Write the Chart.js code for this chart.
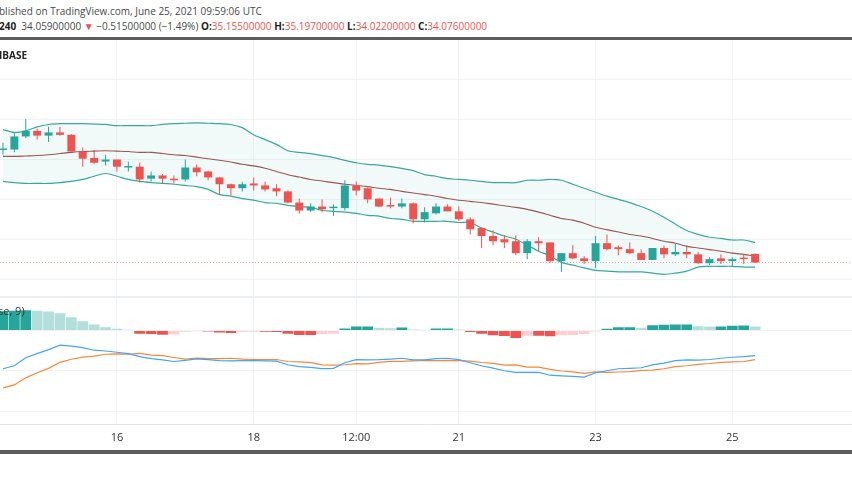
<!DOCTYPE html>
<html>
<head>
<meta charset="utf-8">
<script src="https://cdn.jsdelivr.net/npm/chart.js@4"></script>
<style>
  body { margin: 0; width: 852px; height: 485px; background: #fff; overflow: hidden; position: relative; font-family: "Open Sans", Arial, sans-serif; }
  .hdr1 { position: absolute; left: -1px; top: 4px; font-size: 10px; color: #4a4a4a; white-space: nowrap; }
  .hdr2 { position: absolute; left: -1px; top: 19px; font-size: 10px; color: #4a4a4a; white-space: nowrap; }
  .hdr2 b { color: #222; }
  .red { color: #ef5350; }
  .topline { position: absolute; left: 0; top: 37px; width: 852px; height: 3px; background: #5d5d5d; }
  .sym { position: absolute; left: -1px; top: 48px; font-size: 10px; font-weight: bold; color: #222; }
  .macdlbl { position: absolute; left: -2px; top: 303px; font-size: 11px; color: #333; }
  .sep { position: absolute; left: 0; top: 296px; width: 852px; height: 2px; background: #eceff2; }
  .bottomline { position: absolute; left: 0; top: 450px; width: 852px; height: 4px; background: #5d5d5d; }
  .pane { position: absolute; left: 0; width: 852px; }
  canvas { display: block; }
</style>
</head>
<body>
<div class="hdr1">blished on TradingView.com, June 25, 2021 09:59:06 UTC</div>
<div class="hdr2"><b>240</b>&nbsp; 34.05900000 <span class="red">▼</span> −0.51500000 (−1.49%) <b>O:</b><span class="red">35.15500000</span> <b>H:</b><span class="red">35.19700000</span> <b>L:</b><span class="red">34.02200000</span> <b>C:</b><span class="red">34.07600000</span></div>
<div class="topline"></div>
<div class="pane" style="top:40px;height:256px"><canvas id="main" width="852" height="256"></canvas></div>
<div class="sym">IBASE</div>
<div class="sep"></div>
<div class="pane" style="top:298px;height:152px"><canvas id="macd" width="852" height="152"></canvas></div>
<div class="macdlbl">se, 9)</div>
<div class="bottomline"></div>
<script>
// 4h candles, index 0..66
const opens  = [48.2,48.25,49.9,50.6,50.0,50.4,50.1,48.0,47.2,46.75,47.0,46.0,46.1,44.6,45.0,44.6,44.5,46.0,45.5,44.75,43.9,43.4,44.0,43.75,43.4,43.0,41.6,40.6,41.1,40.9,40.9,43.75,43.4,42.1,41.25,41.1,41.5,39.5,40.25,41.1,40.5,39.5,38.4,37.4,37.0,36.75,35.25,36.75,36.6,34.25,35.25,34.6,34.25,36.5,36.0,35.75,35.25,34.4,35.9,35.1,35.4,35.1,34.0,34.6,34.25,34.6,35.155];
const closes = [48.3,49.9,50.6,50.0,50.4,50.1,48.0,47.1,46.6,47.0,46.1,46.15,44.5,45.0,44.6,44.4,46.0,45.4,44.75,43.9,43.4,43.9,43.75,43.25,43.0,41.6,40.6,41.1,40.75,41.0,43.75,43.1,42.0,41.1,41.1,41.5,39.5,40.4,41.1,40.5,39.5,38.25,37.4,36.75,36.6,35.25,36.75,36.5,34.25,35.25,34.6,34.25,36.5,35.75,35.75,35.25,34.4,35.9,35.1,35.4,35.1,34.0,34.5,34.25,34.5,34.5,34.076];
const highs  = [49.1,50.4,52.1,50.9,51.1,51.1,50.2,48.5,48.2,47.6,47.0,46.75,46.6,45.5,45.2,45.0,47.0,46.4,45.6,44.8,44.0,44.2,44.75,44.2,43.9,43.1,42.1,41.5,42.0,41.4,44.4,44.25,43.5,42.1,42.25,42.1,41.6,41.0,41.5,41.4,41.1,39.75,38.5,38.1,37.5,37.5,37.0,37.25,36.6,35.25,36.25,34.9,37.4,37.6,36.2,36.6,35.75,35.9,36.2,36.4,36.25,35.4,34.75,35.1,34.75,35.1,35.197];
const lows   = [47.6,47.9,49.7,49.5,49.2,50.0,48.0,46.1,46.4,46.25,45.5,45.5,44.1,44.25,44.0,44.0,44.25,44.9,44.4,42.6,42.5,43.0,43.1,43.0,42.4,41.5,40.2,40.4,40.4,39.9,40.6,42.5,41.5,41.0,40.9,40.9,39.0,39.1,40.1,40.5,39.3,37.6,35.9,36.25,35.9,35.0,34.5,35.5,34.0,32.9,34.5,33.9,33.4,35.6,35.0,35.1,34.4,34.4,34.6,34.9,34.6,33.9,33.75,33.9,33.6,33.9,34.022];
// Bollinger bands
const bbUpper = [50.75,50.4,50.6,51.1,51.4,51.5,51.5,51.5,51.45,51.4,51.25,51.25,51.25,51.25,51.4,51.5,51.55,51.6,51.55,51.5,51.4,51.0,50.1,49.5,48.9,48.1,47.9,47.75,47.5,47.25,46.9,46.6,46.4,46.3,46.1,45.9,45.6,45.1,44.9,44.6,44.5,44.4,44.25,44.1,44.1,44.1,44.4,44.4,44.5,44.4,43.9,43.4,42.9,42.4,42.0,41.6,41.1,40.5,39.75,38.9,38.1,37.6,37.25,37.1,36.9,36.9,36.6];
const bbMid   = [47.4,47.4,47.45,47.5,47.6,47.75,47.9,48.0,48.05,48.1,48.05,48.0,47.9,47.9,47.75,47.6,47.5,47.3,47.1,46.9,46.7,46.4,46.2,45.9,45.5,45.1,44.8,44.5,44.3,44.1,43.9,43.75,43.6,43.4,43.25,43.0,42.8,42.6,42.4,42.1,41.9,41.75,41.6,41.4,41.2,41.0,40.75,40.4,40.0,39.6,39.4,39.0,38.5,38.2,37.9,37.6,37.4,37.1,36.75,36.5,36.1,35.9,35.7,35.5,35.25,35.1,34.9];
const bbLower = [44.25,44.1,44.0,44.0,44.0,44.1,44.25,44.5,44.9,45.25,44.9,44.5,44.25,44.1,44.0,43.9,43.75,43.6,43.25,42.6,42.4,42.1,41.9,41.6,41.5,41.25,41.1,41.0,40.6,40.5,40.4,40.25,40.0,39.9,39.6,39.5,39.25,39.25,39.25,39.25,39.1,39.1,38.4,37.9,37.4,37.0,36.25,35.5,34.9,34.1,33.75,33.4,33.1,33.0,32.9,32.9,32.9,32.75,32.6,32.75,33.0,33.5,33.6,33.6,33.6,33.5,33.5];
const lastPrice = 34.076;
// MACD (12, 26, close, 9)
const macdHist = [0.95,0.98,1.0,0.98,0.94,0.85,0.65,0.46,0.29,0.16,0.08,0.03,-0.16,-0.18,-0.21,-0.2,-0.06,-0.04,-0.05,-0.1,-0.13,-0.08,-0.06,-0.06,-0.08,-0.16,-0.23,-0.23,-0.18,-0.16,0.1,0.2,0.2,0.13,0.11,0.15,0.05,0.03,0.1,0.1,0.05,-0.08,-0.16,-0.24,-0.28,-0.37,-0.26,-0.26,-0.29,-0.24,-0.23,-0.18,-0.05,0.08,0.16,0.16,0.13,0.26,0.28,0.29,0.29,0.21,0.2,0.2,0.23,0.24,0.2];
const macdLine = [-1.9,-1.75,-1.35,-1.15,-0.95,-0.73,-0.78,-0.85,-0.98,-1.02,-1.08,-1.15,-1.3,-1.4,-1.46,-1.54,-1.48,-1.41,-1.45,-1.5,-1.51,-1.5,-1.5,-1.51,-1.52,-1.7,-1.79,-1.83,-1.89,-1.88,-1.6,-1.45,-1.46,-1.45,-1.42,-1.38,-1.46,-1.46,-1.4,-1.38,-1.45,-1.6,-1.75,-1.87,-2.0,-2.08,-2.08,-2.08,-2.22,-2.25,-2.28,-2.31,-2.1,-2.0,-1.9,-1.88,-1.85,-1.71,-1.62,-1.5,-1.46,-1.47,-1.44,-1.38,-1.33,-1.3,-1.25];
const signalLine = [-2.85,-2.7,-2.35,-2.1,-1.88,-1.58,-1.43,-1.32,-1.27,-1.18,-1.16,-1.18,-1.14,-1.22,-1.25,-1.34,-1.42,-1.37,-1.4,-1.4,-1.38,-1.42,-1.44,-1.45,-1.44,-1.54,-1.56,-1.6,-1.71,-1.72,-1.7,-1.65,-1.66,-1.58,-1.53,-1.53,-1.51,-1.49,-1.5,-1.48,-1.5,-1.52,-1.59,-1.63,-1.72,-1.71,-1.82,-1.82,-1.93,-2.01,-2.05,-2.13,-2.05,-2.08,-2.06,-2.04,-1.98,-1.97,-1.9,-1.79,-1.75,-1.68,-1.64,-1.58,-1.56,-1.54,-1.45];
// x-axis labels by candle index
const tickIdx = [10, 22, 31, 40, 52, 64];
const tickText = ['16', '18', '12:00', '21', '23', '25'];
const priceGrid = [32, 37, 42, 47, 52, 57];
const macdGrid = [-4, -2, 0];

const UP = '#26a69a', DOWN = '#ef5350';
const X_MIN = -0.26, X_MAX = 74.5;
const pts = (arr) => arr.map((v, i) => ({ x: i, y: v }));
const hiddenY = (min, max, grid) => ({
  min, max,
  position: 'right',
  border: { display: false },
  ticks: { display: false },
  grid: { color: '#f0f3f6', drawTicks: false },
  afterBuildTicks: (s) => { s.ticks = grid.map((v) => ({ value: v })); },
  afterFit: (s) => { s.width = 0; }
});
const xGridScale = (showLabels) => ({
  type: 'linear', min: X_MIN, max: X_MAX, offset: false,
  border: { display: showLabels, color: '#e0e3eb' },
  grid: { color: '#f0f3f6', drawTicks: false, offset: false },
  afterBuildTicks: (s) => { s.ticks = tickIdx.map((v) => ({ value: v })); },
  ticks: {
    display: showLabels, padding: 6, maxRotation: 0, autoSkip: false,
    color: '#333', font: { family: 'Open Sans', size: 11 },
    callback: (v) => tickText[tickIdx.indexOf(v)] ?? ''
  },
  afterFit: (s) => { if (!showLabels) s.height = 0; }
});
const candleColor = (i) => closes[i] >= opens[i] ? UP : DOWN;

new Chart(document.getElementById('main'), {
  data: {
    datasets: [
      { type: 'line', data: pts(bbUpper), borderColor: '#3ba89b', borderWidth: 1.2, pointRadius: 0, tension: 0.3,
        fill: { target: 2 }, backgroundColor: 'rgba(38,166,154,0.06)', order: 3 },
      { type: 'line', data: pts(bbMid), borderColor: '#a0524f', borderWidth: 1.1, pointRadius: 0, tension: 0.3, order: 3 },
      { type: 'line', data: pts(bbLower), borderColor: '#3ba89b', borderWidth: 1.2, pointRadius: 0, tension: 0.3, order: 3 },
      { type: 'line', data: [{ x: X_MIN, y: lastPrice }, { x: X_MAX, y: lastPrice }], borderColor: 'rgba(239,83,80,0.55)',
        borderWidth: 1, borderDash: [1, 2], pointRadius: 0, order: 4 },
      { type: 'bar', grouped: false, data: lows.map((l, i) => ({ x: i, y: [l, highs[i]] })),
        backgroundColor: opens.map((o, i) => candleColor(i)), maxBarThickness: 1, order: 2 },
      { type: 'bar', grouped: false, data: opens.map((o, i) => ({ x: i, y: [o, closes[i]] })),
        backgroundColor: opens.map((o, i) => candleColor(i)), barPercentage: 0.7, categoryPercentage: 1,
        minBarLength: 1.5, order: 1 }
    ]
  },
  options: {
    responsive: false, animation: false, devicePixelRatio: 1,
    layout: { padding: 0 },
    plugins: { legend: { display: false }, tooltip: { enabled: false } },
    scales: { x: xGridScale(false), y: hiddenY(29.875, 62, priceGrid) }
  }
});

const histColor = macdHist.map((v, i) => {
  const prev = i > 0 ? macdHist[i - 1] : v;
  if (v >= 0) return v >= prev ? UP : '#b2dfdb';
  return v <= prev ? DOWN : '#ffcdd2';
});

new Chart(document.getElementById('macd'), {
  data: {
    datasets: [
      { type: 'bar', data: pts(macdHist), backgroundColor: histColor, barPercentage: 0.95, categoryPercentage: 1, order: 3 },
      { type: 'line', data: pts(macdLine), borderColor: '#42a5f5', borderWidth: 1.2, pointRadius: 0, order: 1 },
      { type: 'line', data: pts(signalLine), borderColor: '#f5883a', borderWidth: 1.2, pointRadius: 0, order: 2 }
    ]
  },
  options: {
    responsive: false, animation: false, devicePixelRatio: 1,
    layout: { padding: 0 },
    plugins: { legend: { display: false }, tooltip: { enabled: false } },
    scales: { x: xGridScale(true), y: hiddenY(-4.68, 1.61, macdGrid) }
  }
});
</script>
</body>
</html>
